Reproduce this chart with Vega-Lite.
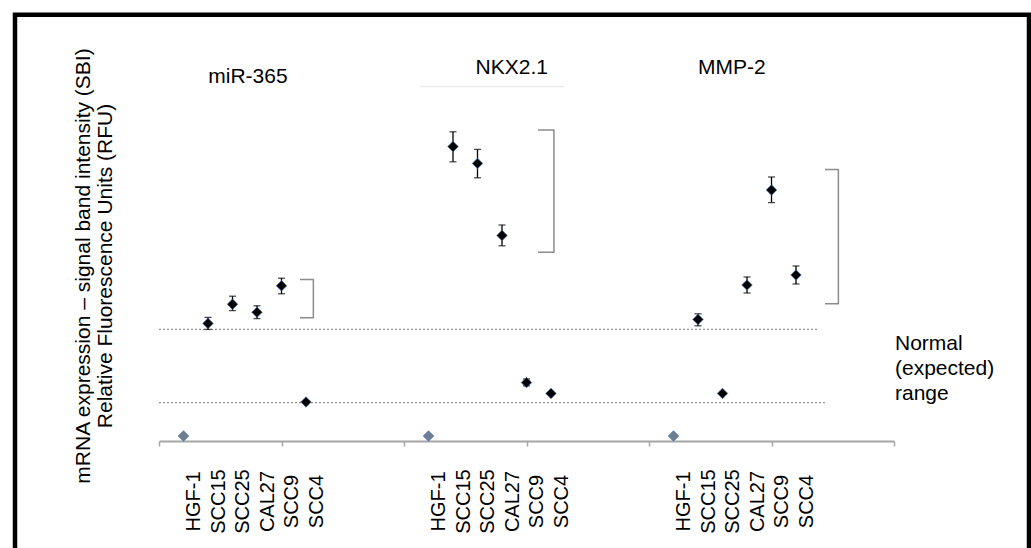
{
  "$schema": "https://vega.github.io/schema/vega-lite/v6.json",
  "width": 735,
  "height": 400,
  "autosize": {"type": "none"},
  "padding": {"left": 159, "top": 41, "right": 137, "bottom": 107},
  "background": "white",
  "config": {"view": {"stroke": null}, "font": "Liberation Sans"},
  "datasets": {
    "pts": [
      {"gene": "miR-365", "cell": "HGF-1", "x": 1, "y": 1.25, "lo": null, "hi": null, "kind": "control"},
      {"gene": "miR-365", "cell": "SCC15", "x": 2, "y": 29.4, "lo": 27.9, "hi": 30.9, "kind": "sample"},
      {"gene": "miR-365", "cell": "SCC25", "x": 3, "y": 34.2, "lo": 32.6, "hi": 36.2, "kind": "sample"},
      {"gene": "miR-365", "cell": "CAL27", "x": 4, "y": 32.2, "lo": 30.6, "hi": 33.8, "kind": "sample"},
      {"gene": "miR-365", "cell": "SCC9", "x": 5, "y": 38.8, "lo": 36.8, "hi": 40.7, "kind": "sample"},
      {"gene": "miR-365", "cell": "SCC4", "x": 6, "y": 9.75, "lo": null, "hi": null, "kind": "sample"},
      {"gene": "NKX2.1", "cell": "HGF-1", "x": 11, "y": 1.25, "lo": null, "hi": null, "kind": "control"},
      {"gene": "NKX2.1", "cell": "SCC15", "x": 12, "y": 73.6, "lo": 69.8, "hi": 77.3, "kind": "sample"},
      {"gene": "NKX2.1", "cell": "SCC25", "x": 13, "y": 69.4, "lo": 65.8, "hi": 72.9, "kind": "sample"},
      {"gene": "NKX2.1", "cell": "CAL27", "x": 14, "y": 51.4, "lo": 48.8, "hi": 54.0, "kind": "sample"},
      {"gene": "NKX2.1", "cell": "SCC9", "x": 15, "y": 14.6, "lo": 13.8, "hi": 15.5, "kind": "sample"},
      {"gene": "NKX2.1", "cell": "SCC4", "x": 16, "y": 11.9, "lo": null, "hi": null, "kind": "sample"},
      {"gene": "MMP-2", "cell": "HGF-1", "x": 21, "y": 1.25, "lo": null, "hi": null, "kind": "control"},
      {"gene": "MMP-2", "cell": "SCC15", "x": 22, "y": 30.4, "lo": 28.8, "hi": 31.8, "kind": "sample"},
      {"gene": "MMP-2", "cell": "SCC25", "x": 23, "y": 11.9, "lo": null, "hi": null, "kind": "sample"},
      {"gene": "MMP-2", "cell": "CAL27", "x": 24, "y": 39.0, "lo": 37.0, "hi": 41.0, "kind": "sample"},
      {"gene": "MMP-2", "cell": "SCC9", "x": 25, "y": 62.75, "lo": 59.6, "hi": 66.0, "kind": "sample"},
      {"gene": "MMP-2", "cell": "SCC4", "x": 26, "y": 41.5, "lo": 39.25, "hi": 43.75, "kind": "sample"}
    ],
    "normal": [
      {"x": 0, "x2": 26.86, "y": 27.9},
      {"x": 0, "x2": 27.18, "y": 9.6}
    ],
    "faint": [
      {"x": 10.65, "x2": 16.55, "y": 88.6}
    ],
    "brackets": [
      {"b": "miR-365", "o": 1, "x": 5.755, "y": 40.4},
      {"b": "miR-365", "o": 2, "x": 6.3, "y": 40.4},
      {"b": "miR-365", "o": 3, "x": 6.3, "y": 30.8},
      {"b": "miR-365", "o": 4, "x": 5.755, "y": 30.8},
      {"b": "NKX2.1", "o": 1, "x": 15.47, "y": 77.75},
      {"b": "NKX2.1", "o": 2, "x": 16.12, "y": 77.75},
      {"b": "NKX2.1", "o": 3, "x": 16.12, "y": 47.2},
      {"b": "NKX2.1", "o": 4, "x": 15.47, "y": 47.2},
      {"b": "MMP-2", "o": 1, "x": 27.18, "y": 67.9},
      {"b": "MMP-2", "o": 2, "x": 27.73, "y": 67.9},
      {"b": "MMP-2", "o": 3, "x": 27.73, "y": 34.3},
      {"b": "MMP-2", "o": 4, "x": 27.18, "y": 34.3}
    ],
    "titles": [
      {"x": 3.63, "y": 89.5, "label": "miR-365"},
      {"x": 14.4, "y": 91.7, "label": "NKX2.1"},
      {"x": 23.38, "y": 91.7, "label": "MMP-2"}
    ],
    "note": [
      {"x": 30.04, "y": 22.75, "label": "Normal\n(expected)\nrange"}
    ],
    "frame": [
      {"x": -5.878, "x2": 35.51, "y": 106.56, "y2": -30}
    ]
  },
  "encoding": {
    "x": {"field": "x", "type": "quantitative", "scale": {"domain": [0, 30], "nice": false, "zero": false}, "axis": null},
    "y": {"field": "y", "type": "quantitative", "scale": {"domain": [0, 100], "nice": false, "zero": false}, "axis": null}
  },
  "layer": [
    {
      "data": {"name": "frame"},
      "mark": {"type": "rect", "fill": "transparent", "stroke": "black", "strokeWidth": 4.5},
      "encoding": {"x2": {"field": "x2"}, "y2": {"field": "y2"}}
    },
    {
      "data": {"name": "faint"},
      "mark": {"type": "rule", "color": "#ececec", "strokeWidth": 1.5},
      "encoding": {"x2": {"field": "x2"}}
    },
    {
      "data": {"name": "normal"},
      "mark": {"type": "rule", "color": "#8f8f8f", "strokeWidth": 1.2, "strokeDash": [2, 2]},
      "encoding": {
        "x": {"field": "x", "type": "quantitative", "scale": {"domain": [0, 30], "nice": false, "zero": false},
          "axis": {"orient": "bottom", "values": [0, 5, 10, 15, 20, 25, 30], "labels": false, "ticks": true, "tickSize": 5, "tickColor": "#a6a6a6", "tickWidth": 1.5, "domain": true, "domainColor": "#a6a6a6", "domainWidth": 2, "grid": false, "title": null}},
        "x2": {"field": "x2"}
      }
    },
    {
      "data": {"name": "brackets"},
      "mark": {"type": "line", "color": "#8c8c8c", "strokeWidth": 1.5, "strokeJoin": "round"},
      "encoding": {"detail": {"field": "b"}, "order": {"field": "o", "type": "quantitative"}}
    },
    {
      "data": {"name": "pts"},
      "transform": [{"filter": "datum.lo != null"}],
      "mark": {"type": "errorbar", "ticks": {"size": 7, "color": "black", "thickness": 1.3}, "rule": {"color": "black", "strokeWidth": 1.3}},
      "encoding": {
        "y": {"field": "lo", "type": "quantitative", "scale": {"domain": [0, 100], "nice": false, "zero": false}, "axis": null},
        "y2": {"field": "hi"}
      }
    },
    {
      "data": {"name": "pts"},
      "mark": {"type": "point", "shape": "diamond", "filled": true, "size": 110, "stroke": "#3f6fae", "strokeWidth": 0.7, "opacity": 1},
      "encoding": {
        "x": {"field": "x", "type": "quantitative", "scale": {"domain": [0, 30], "nice": false, "zero": false},
          "axis": {"orient": "bottom", "values": [1, 2, 3, 4, 5, 6, 11, 12, 13, 14, 15, 16, 21, 22, 23, 24, 25, 26],
            "labelExpr": "['HGF-1','SCC15','SCC25','CAL27','SCC9','SCC4'][(datum.value - 1) % 10]",
            "domain": false, "ticks": false, "grid": false, "title": null,
            "labelAngle": -90, "labelAlign": "center", "labelBaseline": "middle", "labelPadding": 60, "labelOffset": 10,
            "labelFontSize": 20, "labelColor": "black", "labelFont": "Liberation Sans", "labelOverlap": false, "labelBound": false, "labelFlush": false}},
        "y": {"field": "y", "type": "quantitative", "scale": {"domain": [0, 100], "nice": false, "zero": false},
          "axis": {"orient": "left", "title": ["mRNA expression – signal band intensity (SBI)", "Relative Fluorescence Units (RFU)"],
            "domain": false, "ticks": false, "labels": false, "grid": false,
            "titleFont": "Liberation Sans", "titleFontSize": 21, "titleFontWeight": "normal", "titleColor": "black",
            "titleAngle": -90, "titleAlign": "center", "titleBaseline": "alphabetic", "titleX": -70, "titleY": 224.5, "titleLineHeight": 22}},
        "color": {"field": "kind", "type": "nominal", "scale": {"domain": ["control", "sample"], "range": ["#6f7d90", "#000000"]}, "legend": null}
      }
    },
    {
      "data": {"name": "titles"},
      "mark": {"type": "text", "font": "Liberation Sans", "fontSize": 21, "align": "center", "baseline": "alphabetic", "color": "black"},
      "encoding": {"text": {"field": "label"}}
    },
    {
      "data": {"name": "note"},
      "mark": {"type": "text", "font": "Liberation Sans", "fontSize": 21, "align": "left", "baseline": "alphabetic", "color": "black", "lineBreak": "\n", "lineHeight": 25},
      "encoding": {"text": {"field": "label"}}
    }
  ],
  "resolve": {"axis": {"x": "independent", "y": "independent"}}
}
